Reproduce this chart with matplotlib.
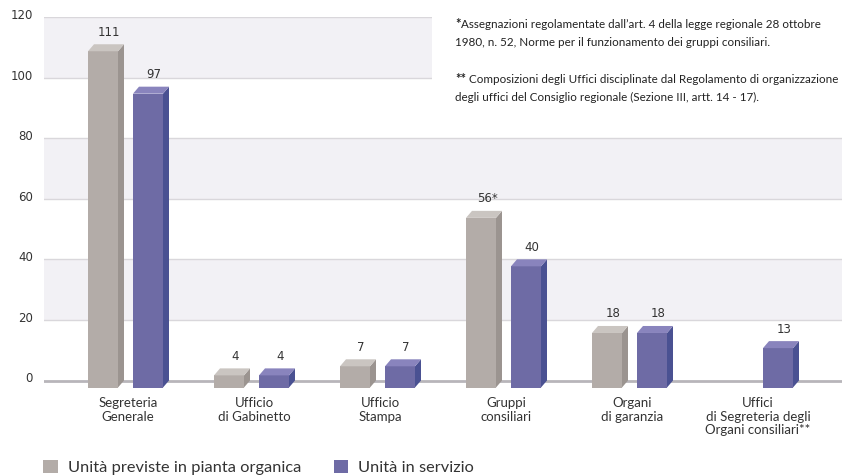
import matplotlib
matplotlib.use("Agg")
import matplotlib.pyplot as plt
from matplotlib.patches import Rectangle, Polygon, Patch
import matplotlib.transforms as mtransforms

categories = ["Segreteria\nGenerale", "Ufficio\ndi Gabinetto", "Ufficio\nStampa",
              "Gruppi\nconsiliari", "Organi\ndi garanzia",
              "Uffici\ndi Segreteria degli\nOrgani consiliari**"]
previste = [111, 4, 7, 56, 18, None]
previste_labels = ["111", "4", "7", "56*", "18", ""]
in_servizio = [97, 4, 7, 40, 18, 13]
in_servizio_labels = ["97", "4", "7", "40", "18", "13"]
yticks = [0, 20, 40, 60, 80, 100, 120]
legend_labels = ["Unità previste in pianta organica", "Unità in servizio"]
note1_lines = ["Assegnazioni regolamentate dall\u2019art. 4 della legge regionale 28 ottobre",
               "1980, n. 52, Norme per il funzionamento dei gruppi consiliari."]
note2_lines = ["Composizioni degli Uffici disciplinate dal Regolamento di organizzazione",
               "degli uffici del Consiglio regionale (Sezione III, artt. 14 - 17)."]

W, H = 842, 476
fig = plt.figure(figsize=(W / 100, H / 100), dpi=100)
fig.patch.set_facecolor("white")

ymin, ymax = -5, 120
y0px, y120px = 380.5, 17.0
ppu = (y0px - y120px) / 120.0
bottom_px = y0px - ymin * ppu
left_px = 44
ax = fig.add_axes([left_px / W, 1 - bottom_px / H, 1 - left_px / W, (bottom_px - y120px) / H])
ax.set_ylim(ymin, ymax)
xmin = -84 / 126
ax.set_xlim(xmin, xmin + (W - left_px) / 126)
ax.set_facecolor("white")
for s in ax.spines.values():
    s.set_visible(False)

band = "#f2f1f5"
for lo in (20, 60, 100):
    ax.axhspan(lo, lo + 20, color=band, zorder=0, lw=0)
for y in yticks[1:]:
    ax.axhline(y, color="#d9d7db", lw=1.0, zorder=1)
ax.axhline(0, color="#b8b5ba", lw=2.0, zorder=1)

# white box behind notes
px2x = lambda px: xmin + (px - left_px) / 126
ax.add_patch(Rectangle((px2x(432), 80.6), px2x(W + 5) - px2x(432), 41,
                       facecolor="white", edgecolor="none", zorder=1.5, clip_on=False))

w = 30 / 126
dx = 6 / 126
dy = 7 / ppu
grey = ("#b3aca8", "#9b9490", "#cac5c1")
purple = ("#6e6ba5", "#4a5192", "#8984bd")

def bar3d(x, v, cols, label):
    front, side, top = cols
    ax.add_patch(Rectangle((x, -dy), w, v, facecolor=front, edgecolor="none", zorder=3, clip_on=False))
    ax.add_patch(Polygon([(x + w, -dy), (x + w + dx, 0), (x + w + dx, v), (x + w, v - dy)],
                         closed=True, facecolor=side, edgecolor="none", zorder=3, clip_on=False))
    ax.add_patch(Polygon([(x, v - dy), (x + dx, v), (x + w + dx, v), (x + w, v - dy)],
                         closed=True, facecolor=top, edgecolor="none", zorder=3, clip_on=False))
    ax.annotate(label, (x + w / 2 + dx, v), xytext=(0, 4), textcoords="offset points",
                ha="center", va="bottom", fontsize=8.5, color="#333333",
                family="DejaVu Sans", zorder=4)

for i in range(len(categories)):
    if previste[i] is not None:
        bar3d(i - 40 / 126, previste[i], grey, previste_labels[i])
    bar3d(i + 5 / 126, in_servizio[i], purple, in_servizio_labels[i])

ax.set_xticks(range(len(categories)))
ax.set_xticklabels(categories, family="Lato", fontsize=9.5, color="#333333", linespacing=1.15)
ax.tick_params(axis="x", length=0, pad=1)
ax.set_yticks(yticks)
ax.set_yticklabels([str(t) for t in yticks], family="DejaVu Sans", fontsize=8.5, color="#333333")
ax.tick_params(axis="y", length=0, pad=8)
off = mtransforms.ScaledTranslation(0, 3 / 100, fig.dpi_scale_trans)
for lab in ax.get_yticklabels():
    lab.set_transform(lab.get_transform() + off)

# notes
nfs = 8.4
ncol = "#222222"
nx = 455
renderer = fig.canvas.get_renderer()

def note(y_base, star, lines, gap):
    st = fig.text(nx / W, 1 - y_base / H, star, fontsize=nfs + 1, family="Lato", weight="bold",
                  color=ncol, va="baseline")
    sw = st.get_window_extent(renderer).width
    fig.text((nx + sw + gap) / W, 1 - y_base / H, lines[0], fontsize=nfs, family="Lato",
             color=ncol, va="baseline")
    fig.text(nx / W, 1 - (y_base + 18) / H, lines[1], fontsize=nfs, family="Lato",
             color=ncol, va="baseline")

note(28, "*", note1_lines, 0.5)
note(83, "**", note2_lines, 3)

handles = [Patch(facecolor=grey[0], edgecolor="none"), Patch(facecolor=purple[0], edgecolor="none")]
fig.legend(handles, legend_labels, loc="lower left", bbox_to_anchor=(43 / W, 1 / H),
           ncol=2, frameon=False, prop={"family": "Lato", "size": 11.8}, labelcolor="#333333",
           handlelength=0.9, handleheight=0.9, handletextpad=0.6, columnspacing=2.0,
           borderpad=0, borderaxespad=0)

fig.savefig("out.png", dpi=100)
